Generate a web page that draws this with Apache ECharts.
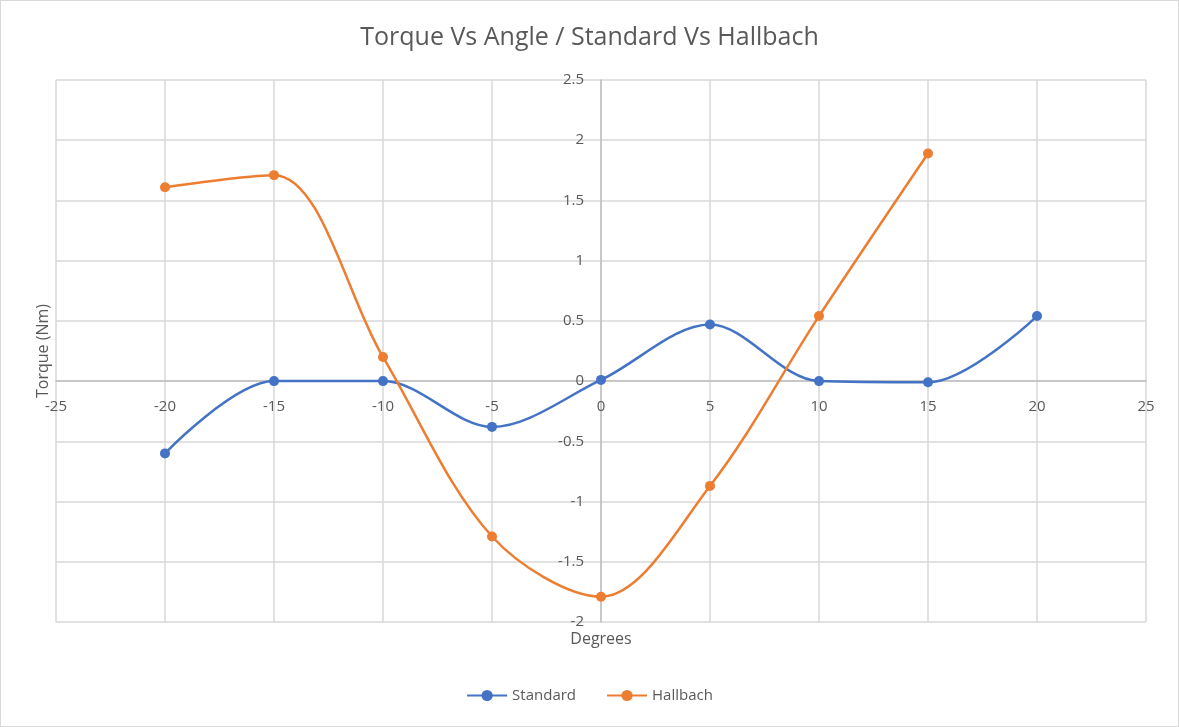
<!DOCTYPE html>
<html>
<head>
<meta charset="utf-8">
<script src="https://cdn.jsdelivr.net/npm/echarts@6/dist/echarts.min.js"></script>
<style>
  html, body { margin: 0; padding: 0; background: #fff; }
  #chart { width: 1179px; height: 727px; box-sizing: border-box; border: 1px solid #d9d9d9; }
</style>
</head>
<body>
<div id="chart"></div>
<script>
// angles in degrees
const angles = [-20, -15, -10, -5, 0, 5, 10, 15, 20]
const standardTorque = [-0.60, 0.0, 0.0, -0.38, 0.01, 0.47, 0.0, -0.01, 0.54]
const hallbachAngles = [-20, -15, -10, -5, 0, 5, 10, 15]
const hallbachTorque = [1.61, 1.71, 0.20, -1.29, -1.79, -0.87, 0.54, 1.89]

const textColor = '#595959'
const font = 'Open Sans'

const chart = echarts.init(document.getElementById('chart'))

const option = {
  animation: false,
  textStyle: { fontFamily: font },
  title: {
    text: 'Torque Vs Angle / Standard Vs Hallbach',
    left: 'center',
    top: 19,
    textStyle: { color: textColor, fontSize: 25, fontWeight: 'normal', fontFamily: font }
  },
  grid: { left: 55, right: 32, top: 79, bottom: 104, containLabel: false, outerBoundsMode: 'none' },
  legend: {
    bottom: 18,
    itemGap: 30,
    itemWidth: 40,
    textStyle: { color: textColor, fontSize: 15 },
    data: ['Standard', 'Hallbach']
  },
  xAxis: {
    type: 'value',
    min: -25, max: 25, interval: 5,
    // axis moved up onto the zero line, labels follow it
    offset: -241,
    name: 'Degrees',
    nameLocation: 'middle',
    nameGap: 250,
    nameTextStyle: { color: textColor, fontSize: 16 },
    axisLine: { onZero: false, lineStyle: { color: '#bfbfbf', width: 1.5 } },
    axisTick: { show: false },
    axisLabel: { color: textColor, fontSize: 15, margin: 18 },
    splitLine: { lineStyle: { color: '#d9d9d9', width: 1.5 } }
  },
  yAxis: {
    type: 'value',
    min: -2, max: 2.5, interval: 0.5,
    offset: -545,
    name: 'Torque (Nm)',
    nameLocation: 'middle',
    nameRotate: 90,
    nameGap: 550,
    nameTextStyle: { color: textColor, fontSize: 16 },
    axisLine: { show: true, onZero: false, lineStyle: { color: '#bfbfbf', width: 1.5 } },
    axisTick: { show: false },
    axisLabel: { color: textColor, fontSize: 15, margin: 17, formatter: v => String(v) },
    splitLine: { lineStyle: { color: '#d9d9d9', width: 1.5 } }
  },
  series: [
    {
      name: 'Standard',
      type: 'line',
      smooth: 0.33,
      data: angles.map((a, i) => [a, standardTorque[i]]),
      symbol: 'circle',
      symbolSize: 10,
      lineStyle: { width: 2.5, color: '#4472C4' },
      itemStyle: { color: '#4472C4' }
    },
    {
      name: 'Hallbach',
      type: 'line',
      smooth: 0.33,
      data: hallbachAngles.map((a, i) => [a, hallbachTorque[i]]),
      symbol: 'circle',
      symbolSize: 10,
      lineStyle: { width: 2.5, color: '#ED7D31' },
      itemStyle: { color: '#ED7D31' }
    }
  ]
}

chart.setOption(option)
</script>
</body>
</html>
